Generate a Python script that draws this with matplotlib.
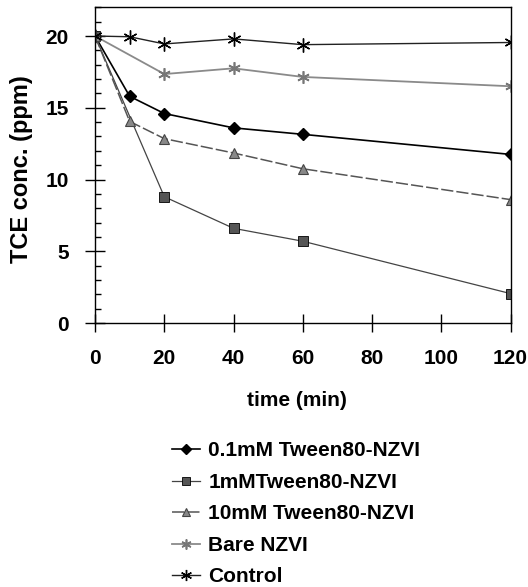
import numpy as np
import matplotlib
matplotlib.use("Agg")
import matplotlib.pyplot as plt
from matplotlib.ticker import MultipleLocator

plt.rcParams['font.family'] = ['Liberation Sans', 'DejaVu Sans']
plt.rcParams['font.weight'] = 'bold'

# data
t_tw01 = [0, 10, 20, 40, 60, 120]
c_tw01 = [20.0, 15.8, 14.6, 13.6, 13.15, 11.75]
t_tw1 = [0, 20, 40, 60, 120]
c_tw1 = [20.0, 8.8, 6.6, 5.7, 2.05]
t_tw10 = [0, 10, 20, 40, 60, 120]
c_tw10 = [20.0, 14.05, 12.85, 11.85, 10.75, 8.6]
t_bare = [0, 20, 40, 60, 120]
c_bare = [20.0, 17.35, 17.75, 17.15, 16.5]
t_ctrl = [0, 10, 20, 40, 60, 120]
c_ctrl = [20.0, 19.95, 19.45, 19.8, 19.4, 19.55]

labels = ['0.1mM Tween80-NZVI', '1mMTween80-NZVI', '10mM Tween80-NZVI',
          'Bare NZVI', 'Control']

fig = plt.figure(figsize=(5.28, 5.87), dpi=100)
ax = fig.add_axes([0.18, 0.4497, 0.787, 0.5378])

ast = (6, 2, 0)
ax.plot(t_tw01, c_tw01, color='black', lw=1.2, marker='D', ms=6,
        label=labels[0])
ax.plot(t_tw1, c_tw1, color='#444444', lw=0.9, marker='s', ms=6.5,
        mfc='#555555', mec='black', mew=0.6, label=labels[1])
ax.plot(t_tw10, c_tw10, color='#555555', lw=1.1, ls=(0, (8, 2)), marker='^',
        ms=7, mfc='#888888', mec='#444444', mew=0.8, label=labels[2])
ax.plot(t_bare, c_bare, color='#8a8a8a', lw=1.3, marker=ast, ms=9,
        mec='#777777', mew=1.2, label=labels[3])
ax.plot(t_ctrl, c_ctrl, color='#222222', lw=1.0, marker=ast, ms=10,
        mec='black', mew=1.0, label=labels[4])

ax.set_xlim(0, 120)
ax.set_ylim(0, 22)
ax.set_xticks([0, 20, 40, 60, 80, 100, 120])
ax.set_yticks([0, 5, 10, 15, 20])
ax.yaxis.set_minor_locator(MultipleLocator(1))
ax.tick_params(axis='x', which='major', direction='inout', length=13,
               width=1, labelsize=15, pad=12)
ax.tick_params(axis='y', which='major', direction='inout', length=14,
               width=1, labelsize=15, pad=12)
ax.tick_params(axis='y', which='minor', direction='in', length=4, width=1)
for s in ax.spines.values():
    s.set_linewidth(1.0)

ax.set_ylabel('TCE conc. (ppm)', fontsize=17, fontweight='bold')
ax.yaxis.set_label_coords(-0.149, 0.488)
ax.set_xlabel('time (min)', fontsize=15, fontweight='bold')
ax.xaxis.set_label_coords(0.486, -0.215)

fig.legend(loc='upper left', bbox_to_anchor=(0.326, 0.248), frameon=False,
           fontsize=15, handlelength=1.35, handletextpad=0.38,
           labelspacing=0.6, borderpad=0, borderaxespad=0, markerscale=0.8)

fig.savefig('out.png', dpi=100)
